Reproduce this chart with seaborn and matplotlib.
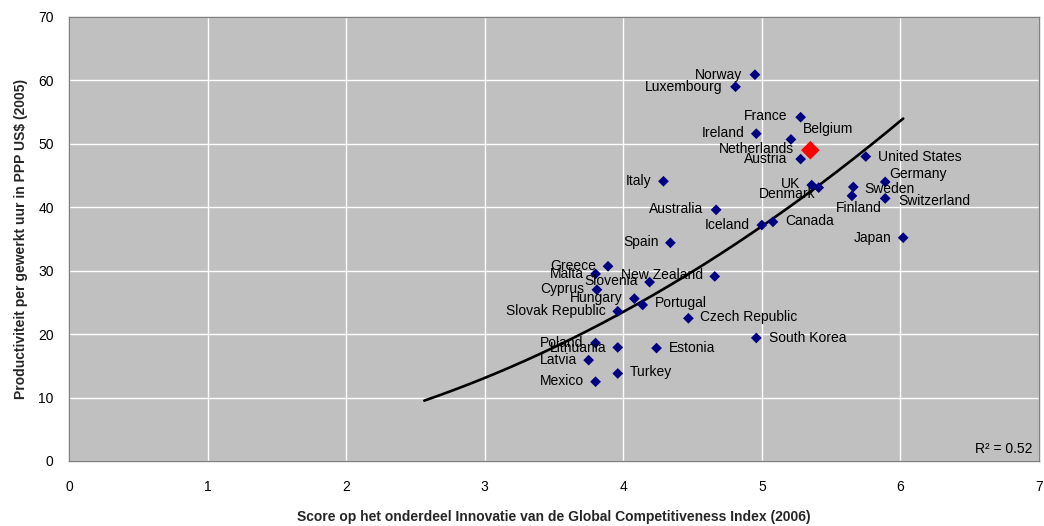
import numpy as np
import pandas as pd
import matplotlib
matplotlib.use("Agg")
import matplotlib.pyplot as plt
import seaborn as sns

# data
countries = ["Norway", "Luxembourg", "France", "Ireland", "Netherlands", "Belgium",
             "Austria", "United States", "Germany", "UK", "Denmark", "Sweden",
             "Finland", "Switzerland", "Japan", "Canada", "Iceland", "Italy",
             "Australia", "Spain", "Greece", "Malta", "New Zealand", "Slovenia",
             "Cyprus", "Hungary", "Portugal", "Slovak Republic", "Czech Republic",
             "South Korea", "Poland", "Lithuania", "Estonia", "Latvia", "Turkey",
             "Mexico"]
innovation = [4.95, 4.81, 5.28, 4.96, 5.21, 5.35,
              5.28, 5.75, 5.89, 5.36, 5.41, 5.66,
              5.65, 5.89, 6.02, 5.08, 5.00, 4.29,
              4.67, 4.34, 3.89, 3.80, 4.66, 4.19,
              3.81, 4.08, 4.14, 3.96, 4.47,
              4.96, 3.80, 3.96, 4.24, 3.75, 3.96,
              3.80]
productivity = [60.9, 59.0, 54.2, 51.6, 50.7, 49.0,
                47.6, 48.0, 44.0, 43.5, 43.1, 43.2,
                41.8, 41.4, 35.2, 37.7, 37.2, 44.1,
                39.6, 34.4, 30.7, 29.5, 29.1, 28.2,
                27.0, 25.6, 24.6, 23.6, 22.5,
                19.4, 18.6, 17.9, 17.8, 15.9, 13.8,
                12.5]
highlight = "Belgium"
r2_text = "R² = 0.52"
trend_start = 2.564

df = pd.DataFrame({"country": countries, "x": innovation, "y": productivity})

# label placement (pixel offsets from the marker, alignment)
label_pos = {
    "Norway": (-13, 0, "right"), "Luxembourg": (-13, 0, "right"),
    "France": (-13, 1, "right"), "Ireland": (-12, 1, "right"),
    "Netherlands": (12, 10, "left", "Belgium"),
    "Belgium": (-16, 1, "right", "Netherlands"),
    "Austria": (-13, 0, "right"), "United States": (12, 0, "left"),
    "Germany": (4, 8, "left"), "UK": (-11, 1, "right"),
    "Denmark": (-3, -6, "right"), "Sweden": (11, -2, "left"),
    "Finland": (7, -12, "center"), "Switzerland": (13, -3, "left"),
    "Japan": (-12, 0, "right"), "Canada": (12, 1, "left"),
    "Iceland": (-12, 0, "right"), "Italy": (-12, 0, "right"),
    "Australia": (-13, 1, "right"), "Spain": (-12, 1, "right"),
    "Greece": (-12, 0, "right"), "Malta": (-12, 0, "right"),
    "New Zealand": (-12, 1, "right"), "Slovenia": (-12, 1, "right"),
    "Cyprus": (-13, 1, "right"), "Hungary": (-12, 1, "right"),
    "Portugal": (12, 2, "left"), "Slovak Republic": (-12, 0, "right"),
    "Czech Republic": (12, 1, "left"), "South Korea": (13, 0, "left"),
    "Poland": (-12, 0, "right"), "Lithuania": (-11, -1, "right"),
    "Estonia": (12, 0, "left"), "Latvia": (-12, 0, "right"),
    "Turkey": (12, 1, "left"), "Mexico": (-12, 1, "right"),
}

sns.set_style("white")
plt.rcParams["font.family"] = ["Liberation Sans", "DejaVu Sans"]

fig = plt.figure(figsize=(10.44, 5.26), dpi=100)
ax = fig.add_axes([69 / 1044, 65 / 526, 970 / 1044, 444 / 526])
ax.set_facecolor("#C0C0C0")

# power trendline (log-log fit)
b, log_a = np.polyfit(np.log(df["x"]), np.log(df["y"]), 1)
tx = np.linspace(trend_start, df["x"].max(), 200)
trend = pd.DataFrame({"x": tx, "y": np.exp(log_a) * tx ** b})
sns.lineplot(data=trend, x="x", y="y", color="black", linewidth=1.9, ax=ax, zorder=3)

others = df[df["country"] != highlight]
sns.scatterplot(data=others, x="x", y="y", marker="D", color="#000080",
                s=30, edgecolor="none", ax=ax, zorder=4)
sns.scatterplot(data=df[df["country"] == highlight], x="x", y="y", marker="D",
                color="#FF0000", s=90, edgecolor="none", ax=ax, zorder=5)

for _, row in df.iterrows():
    spec = label_pos[row["country"]]
    dx, dy, ha = spec[:3]
    text = spec[3] if len(spec) > 3 else row["country"]
    ax.annotate(text, (row["x"], row["y"]), xytext=(dx, dy),
                textcoords="offset pixels", ha=ha, va="center",
                fontsize=10, color="black", zorder=6)

ax.set_xlim(0, 7)
ax.set_ylim(0, 70)
ax.set_xticks(range(0, 8))
ax.set_yticks(range(0, 71, 10))
ax.grid(True, color="white", linewidth=1.0)
ax.set_axisbelow(True)
for sp in ax.spines.values():
    sp.set_color("#808080")
    sp.set_linewidth(1.0)
ax.tick_params(axis="both", length=0, labelsize=10, colors="black")
ax.tick_params(axis="x", pad=14)
ax.tick_params(axis="y", pad=11)

ax.set_xlabel("Score op het onderdeel Innovatie van de Global Competitiveness Index (2006)",
              fontsize=10, fontweight="bold", labelpad=11)
ax.set_ylabel("Productiviteit per gewerkt uur in PPP US$ (2005)",
              fontsize=10, fontweight="bold", labelpad=7)

ax.text(0.993, 0.027, r2_text, transform=ax.transAxes, ha="right", va="center",
        fontsize=10, color="black")

fig.savefig("out.png", dpi=100)
